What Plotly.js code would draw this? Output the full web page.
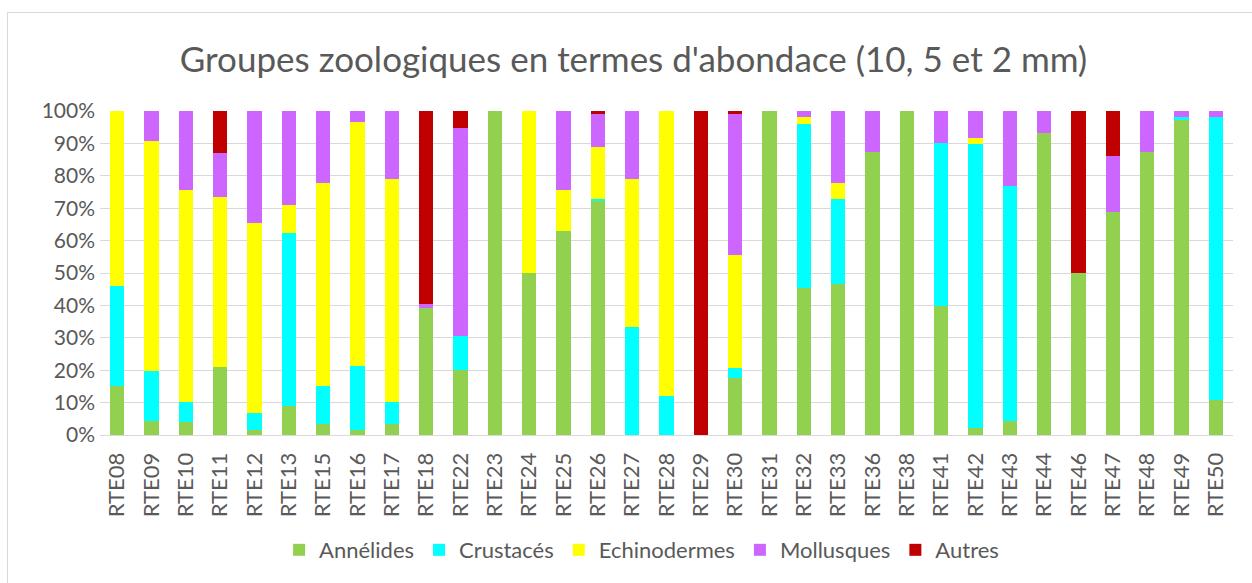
<!DOCTYPE html>
<html>
<head>
<meta charset="utf-8">
<script src="https://cdn.plot.ly/plotly-3.0.1.min.js"></script>
<style>
  html, body { margin: 0; padding: 0; background: #ffffff; overflow: hidden; }
  #chart { position: absolute; left: 0; top: 0; width: 1252px; height: 583px; }
  #frame { position: absolute; left: 7px; top: 12px; width: 1270px; height: 620px;
           border: 1px solid #d9d9d9; pointer-events: none; }
</style>
</head>
<body>
<div id="chart"></div>
<div id="frame"></div>
<script>
const categories = ["RTE08","RTE09","RTE10","RTE11","RTE12","RTE13","RTE15","RTE16","RTE17","RTE18","RTE22","RTE23","RTE24","RTE25","RTE26","RTE27","RTE28","RTE29","RTE30","RTE31","RTE32","RTE33","RTE36","RTE38","RTE41","RTE42","RTE43","RTE44","RTE46","RTE47","RTE48","RTE49","RTE50"];

const annelides    = [15.1, 4.4, 4.0, 21.0, 1.5, 8.9, 3.3, 1.5, 3.3, 39.3, 20.2, 100, 50.0, 63.1, 72.3, 0, 0, 0, 17.5, 100, 45.3, 46.5, 87.3, 100, 39.7, 2.1, 4.4, 93.3, 50.0, 68.7, 87.3, 97.2, 10.7];
const crustaces    = [31.0, 15.5, 6.3, 0, 5.3, 53.4, 11.8, 19.9, 7.0, 0, 10.3, 0, 0, 0, 0.4, 33.3, 12.0, 0, 3.1, 0, 50.8, 26.2, 0, 0, 50.3, 87.6, 72.6, 0, 0, 0, 0, 0.8, 87.3];
const echinodermes = [53.9, 70.9, 65.2, 52.4, 58.7, 8.7, 62.7, 75.1, 68.7, 0, 0, 0, 50.0, 12.4, 16.2, 45.7, 88.0, 0, 34.9, 0, 1.9, 5.0, 0, 0, 0, 1.9, 0, 0, 0, 0, 0, 0, 0];
const mollusques   = [0, 9.2, 24.5, 13.5, 34.5, 29.0, 22.2, 3.5, 21.0, 1.2, 64.3, 0, 0, 24.5, 10.3, 21.0, 0, 0, 43.7, 0, 2.0, 22.3, 12.7, 0, 10.0, 8.4, 23.0, 6.7, 0, 17.4, 12.7, 2.0, 2.0];
const autres       = [0, 0, 0, 13.1, 0, 0, 0, 0, 0, 59.5, 5.2, 0, 0, 0, 0.8, 0, 0, 100, 0.8, 0, 0, 0, 0, 0, 0, 0, 0, 0, 50.0, 13.9, 0, 0, 0];

const seriesNames = ["Annélides", "Crustacés", "Echinodermes", "Mollusques", "Autres"];
const seriesData = [annelides, crustaces, echinodermes, mollusques, autres];
const seriesColors = ["#92D050", "#00FFFF", "#FFFF00", "#CC66FF", "#C00000"];

const yTickVals = [0,10,20,30,40,50,60,70,80,90,100];

const traces = seriesNames.map((name, i) => ({
  type: "bar",
  name: name,
  x: categories,
  y: seriesData[i],
  marker: { color: seriesColors[i], line: { width: 0 } },
  hoverinfo: "x+y+name"
}));

const fontFamily = "Lato, 'Open Sans', sans-serif";
const textColor = "#595959";

const layout = {
  width: 1252,
  height: 583,
  margin: { l: 100, r: 19, t: 111, b: 148, pad: 0 },
  paper_bgcolor: "rgba(0,0,0,0)",
  plot_bgcolor: "#ffffff",
  barmode: "stack",
  bargap: 0.59,
  font: { family: fontFamily, color: textColor, size: 21 },
  title: {
    text: "Groupes zoologiques en termes d'abondace (10, 5 et 2 mm)",
    font: { family: fontFamily, size: 35, color: textColor },
    xref: "container", x: 0.506, xanchor: "center",
    yref: "container", y: 0.897, yanchor: "middle"
  },
  xaxis: {
    type: "category",
    tickangle: -90,
    tickfont: { family: fontFamily, size: 22, color: textColor },
    showgrid: false,
    showline: true,
    linecolor: "#d9d9d9",
    linewidth: 1,
    ticks: "",
    ticklabelstandoff: 8,
    fixedrange: true
  },
  yaxis: {
    range: [0, 100],
    tickvals: yTickVals,
    ticktext: yTickVals.map(v => v + "%"),
    tickfont: { family: fontFamily, size: 21, color: textColor },
    showgrid: true,
    gridcolor: "#d9d9d9",
    gridwidth: 1,
    zeroline: false,
    showline: false,
    ticks: "",
    ticklabelstandoff: 4,
    fixedrange: true
  },
  legend: {
    orientation: "h",
    traceorder: "normal",
    x: 0.478, xanchor: "center",
    y: -0.355, yanchor: "middle",
    font: { family: fontFamily, size: 22, color: textColor },
    bgcolor: "rgba(0,0,0,0)"
  },
  showlegend: true
};

Plotly.newPlot("chart", traces, layout, { displayModeBar: false, staticPlot: true });
</script>
</body>
</html>
